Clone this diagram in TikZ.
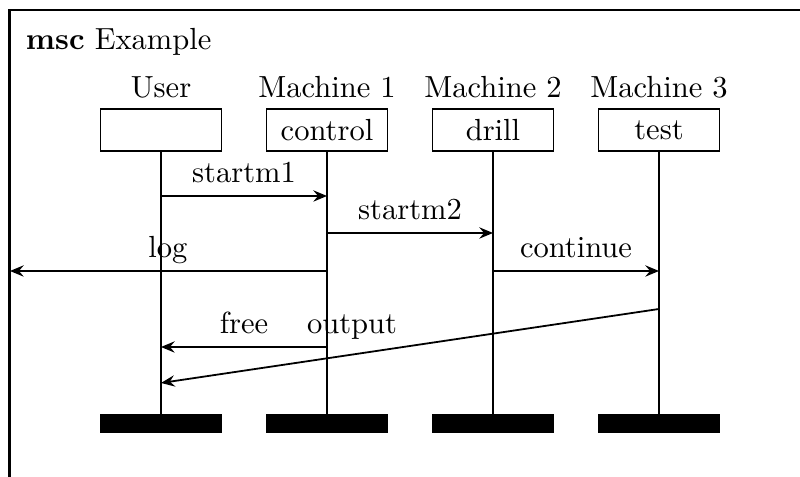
\documentclass[tikz,border=0pt]{standalone}
\usetikzlibrary{arrows.meta}
\begin{document}
\begin{tikzpicture}[x=0.3356pt,y=-0.3356pt,
  line width=0.6pt,
  font=\fontsize{10.25pt}{12pt}\selectfont,
  headbox/.style={draw,rectangle,minimum width=40.6pt,minimum height=14.1pt,inner sep=0pt,anchor=north},
  footbox/.style={fill=black,draw=black,rectangle,minimum width=40.6pt,minimum height=5.7pt,inner sep=0pt,anchor=north},
  lbl/.style={anchor=base,inner sep=0pt},
  msg/.style={-{Stealth[length=4.6pt,width=3.8pt,inset=1.6pt]}}]
\useasboundingbox (0,0) rectangle (800,477);
% frame
\draw[line width=0.8pt] (9.5,477) -- (9.5,10) -- (800,10);
\node[anchor=base west,inner sep=0pt] (title) at (25,50) {\textbf{msc} Example};
% instances
\foreach \n/\x/\name/\inside in {u/161/User/{}, ma/327/Machine 1/control, mb/493/Machine 2/drill, mc/659/Machine 3/test}{
  \node[lbl] (\n lab) at (\x,98) {\name};
  \node[headbox] (\n head) at (\x,108) {\inside};
  \node[footbox] (\n foot) at (\x,414) {};
  \draw (\n head.south) -- (\n foot.north);
}
% message end points
\coordinate (s1a) at (161,196); \coordinate (s1b) at (327,196);
\coordinate (s2a) at (327,233); \coordinate (s2b) at (493,233);
\coordinate (loga) at (327,271); \coordinate (logb) at (10,271);
\coordinate (cona) at (493,271); \coordinate (conb) at (659,271);
\coordinate (fra) at (327,347); \coordinate (frb) at (161,347);
\coordinate (outa) at (659,309); \coordinate (outb) at (161,383);
% messages
\draw[msg] (s1a) -- (s1b);
\node[lbl] (l1) at (244,183) {startm1};
\draw[msg] (s2a) -- (s2b);
\node[lbl] (l2) at (410,220) {startm2};
\draw[msg] (loga) -- (logb);
\node[lbl] (l3) at (168,258) {log};
\draw[msg] (cona) -- (conb);
\node[lbl] (l4) at (576,258) {continue};
\draw[msg] (fra) -- (frb);
\node[lbl] (l5) at (244,334) {free};
\draw[msg] (outa) -- (outb);
\node[lbl] (l6) at (352,334) {output};
\end{tikzpicture}
\end{document}
